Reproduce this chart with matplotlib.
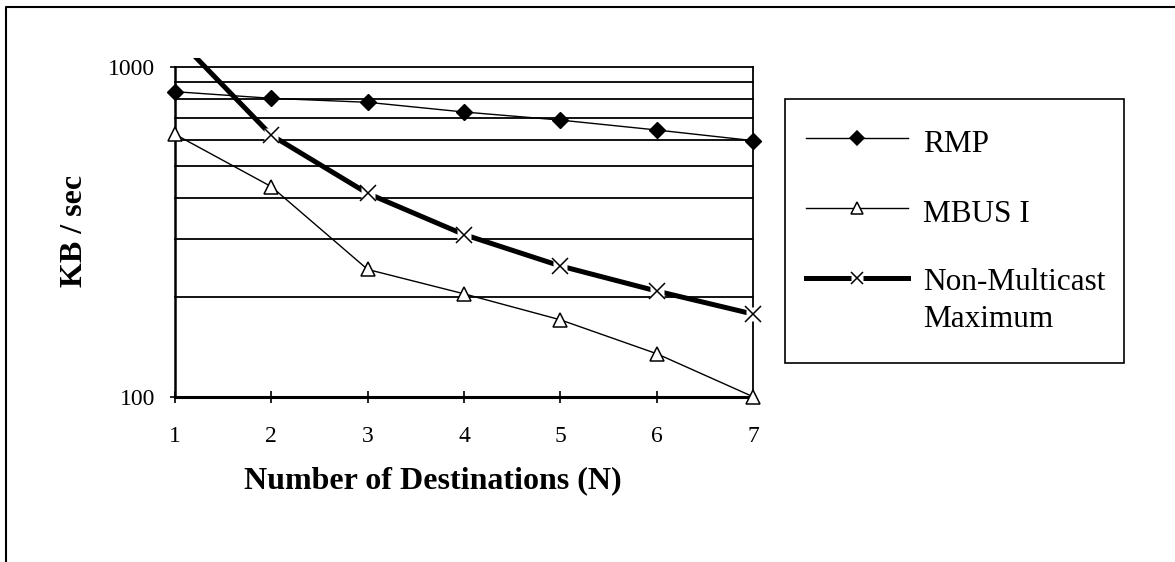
import matplotlib
matplotlib.use("Agg")
import matplotlib.pyplot as plt
from matplotlib.lines import Line2D
from matplotlib.patches import Rectangle
from matplotlib.transforms import Bbox, TransformedBbox
from matplotlib.ticker import FixedLocator, NullFormatter

# Throughput versus number of destinations
destinations = [1, 2, 3, 4, 5, 6, 7]
rmp = [840, 802, 780, 729, 689, 643, 597]
mbus_i = [624, 433, 243, 205, 171, 135, 100]
non_multicast_max = [1240, 620, 413, 310, 249, 209, 178]

series_labels = ["RMP", "MBUS I", "Non-Multicast\nMaximum"]
x_ticks = [1, 2, 3, 4, 5, 6, 7]
y_major = [100, 1000]
y_minor = [200, 300, 400, 500, 600, 700, 800, 900]

W, H = 1175, 562
plt.rcParams["font.family"] = ["Liberation Serif", "DejaVu Serif"]

fig = plt.figure(figsize=(W / 100, H / 100), dpi=100)


def fx(px):
    return px / W


def fy(py):
    return 1 - py / H


ax = fig.add_axes([fx(175), fy(396.7), fx(753) - fx(175), fy(66.7) - fy(396.7)])
ax.set_yscale("log")
ax.set_xlim(1, 7)
ax.set_ylim(100, 1000)

# Horizontal gridlines at every hundred
for v in y_minor + [1000]:
    ax.axhline(v, color="black", lw=1.3, zorder=1, clip_on=False)

ax.yaxis.set_major_locator(FixedLocator(y_major))
ax.yaxis.set_minor_locator(FixedLocator(y_minor))
ax.yaxis.set_minor_formatter(NullFormatter())
ax.set_yticklabels([str(v) for v in y_major])
ax.set_xticks(x_ticks)
ax.set_xticklabels([str(v) for v in x_ticks])
ax.tick_params(axis="y", which="major", direction="out", length=3.5, width=1.2,
               pad=11, labelsize=17)
ax.tick_params(axis="y", which="minor", length=0)
ax.tick_params(axis="x", direction="inout", length=8.5, width=1.2,
               pad=17, labelsize=17)

ax.spines["left"].set_linewidth(1.8)
ax.spines["bottom"].set_linewidth(2.2)
ax.spines["right"].set_linewidth(1.3)
ax.spines["top"].set_visible(False)

# Clip region a little larger than the plotting area
clip = TransformedBbox(Bbox([[-0.05, -0.06], [1.05, 1.026]]), ax.transAxes)

l1, = ax.plot(destinations, rmp, color="black", lw=1.0, marker="D",
              markersize=8, markerfacecolor="black", markeredgecolor="black",
              zorder=3)
l2, = ax.plot(destinations, mbus_i, color="black", lw=1.0, marker="^",
              markersize=10, markerfacecolor="white", markeredgecolor="black",
              markeredgewidth=1.1, zorder=3)
l3, = ax.plot(destinations, non_multicast_max, color="black", lw=3.6, zorder=3)
l3b, = ax.plot(destinations, non_multicast_max, linestyle="none", marker="s",
               markersize=10, markerfacecolor="white", markeredgecolor="none",
               zorder=4)
l3c, = ax.plot(destinations, non_multicast_max, linestyle="none", marker="x",
               markersize=11, markeredgecolor="black", markeredgewidth=1.1,
               zorder=5)
for ln in (l1, l2, l3, l3b, l3c):
    ln.set_clip_box(clip)

# Axis titles
fig.text(fx(433), fy(481), "Number of Destinations (N)", fontsize=23,
         fontweight="bold", ha="center", va="center")
fig.text(fx(75), fy(231), "KB / sec", fontsize=23, fontweight="bold",
         rotation=90, ha="center", va="center")

# Legend
fig.add_artist(Rectangle((fx(785), fy(363)), fx(1124) - fx(785), fy(99) - fy(363),
                         transform=fig.transFigure, facecolor="white",
                         edgecolor="black", lw=1.2))
rows = [138, 207.5, 278]
styles = [
    dict(lw=1.0, marker="D", markersize=7, markerfacecolor="black"),
    dict(lw=1.0, marker="^", markersize=8, markerfacecolor="white"),
    dict(lw=3.6, marker=None),
]
for ry, st in zip(rows, styles):
    fig.add_artist(Line2D([fx(806), fx(908)], [fy(ry), fy(ry)],
                          transform=fig.transFigure, color="black",
                          lw=st["lw"]))
    if st["marker"]:
        fig.add_artist(Line2D([fx(857)], [fy(ry)], transform=fig.transFigure,
                              linestyle="none", marker=st["marker"],
                              markersize=st["markersize"],
                              markerfacecolor=st["markerfacecolor"],
                              markeredgecolor="black", markeredgewidth=1.1))
fig.add_artist(Line2D([fx(857)], [fy(278)], transform=fig.transFigure,
                      linestyle="none", marker="s", markersize=9,
                      markerfacecolor="white", markeredgecolor="none"))
fig.add_artist(Line2D([fx(857)], [fy(278)], transform=fig.transFigure,
                      linestyle="none", marker="x", markersize=9,
                      markeredgecolor="black", markeredgewidth=1.1))

fig.text(fx(923), fy(152.5), series_labels[0], fontsize=22.5, va="baseline")
fig.text(fx(923), fy(221.7), series_labels[1], fontsize=22.5, va="baseline")
first, second = series_labels[2].split("\n")
fig.text(fx(923), fy(290), first, fontsize=22.5, va="baseline")
fig.text(fx(923), fy(327), second, fontsize=22.5, va="baseline")

# Outer chart border (top and left edges)
fig.add_artist(Line2D([fx(5.5), fx(5.5), 1.0], [0.0, fy(7.3), fy(7.3)],
                      transform=fig.transFigure, color="black", lw=1.5))

fig.savefig("out.png", dpi=100)
